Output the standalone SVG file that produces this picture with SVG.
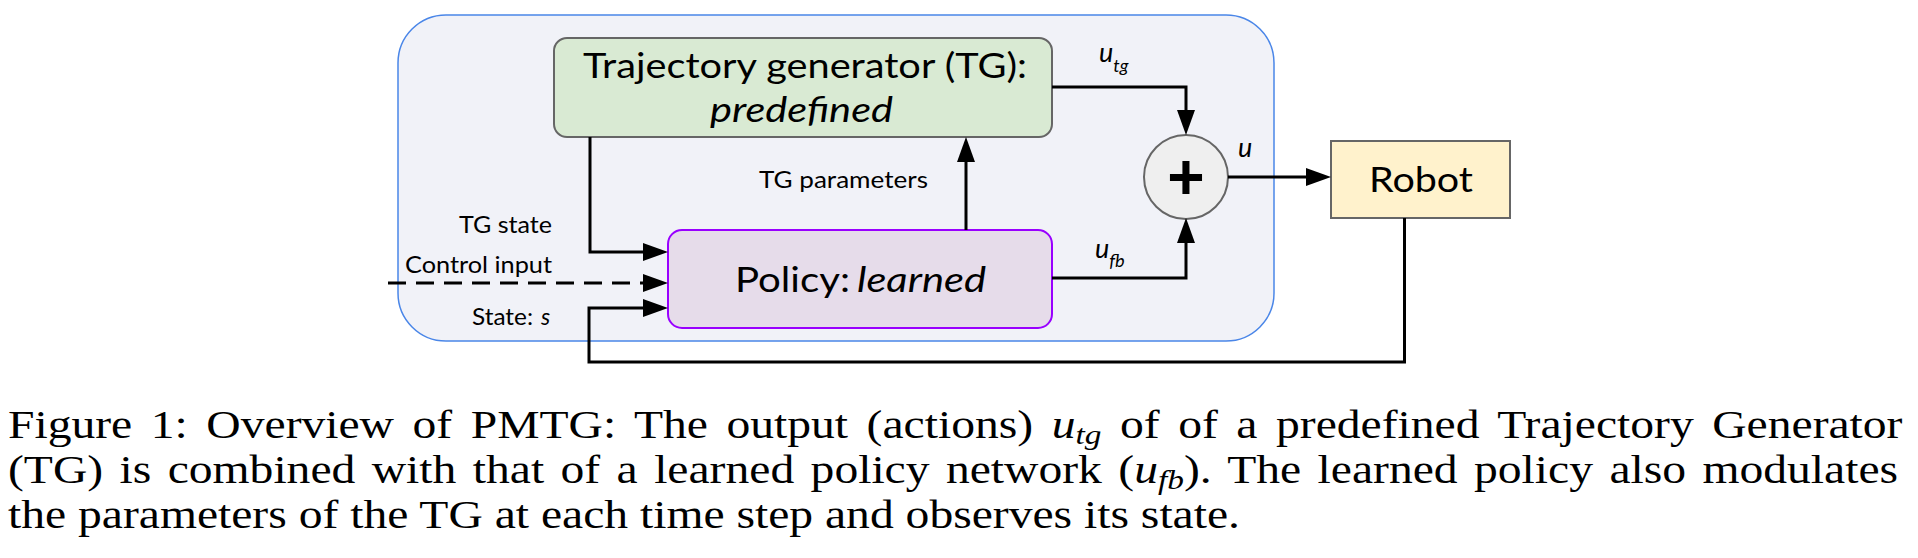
<svg xmlns="http://www.w3.org/2000/svg" width="1918" height="558" viewBox="0 0 1918 558">
<style>
.lbl{font-family:Lato,"Noto Sans","DejaVu Sans",sans-serif;fill:#000}
.big{font-size:35px}
.sm{font-size:23px}
.it{font-style:italic}
.ln{fill:none;stroke:#000;stroke-width:3}
.cap{font-family:"Liberation Serif","Times New Roman",serif;font-size:40px;fill:#000}
</style>
<defs>
<marker id="ah" markerUnits="userSpaceOnUse" markerWidth="26" markerHeight="20" viewBox="0 0 26 20" refX="0" refY="10" orient="auto">
<path d="M0,1 L25,10 L0,19 z" fill="#000"/>
</marker>
</defs>
<rect width="1918" height="558" fill="#fff"/>
<g id="container">
<rect x="398" y="15" width="876" height="326" rx="48" ry="48" fill="#f1f2f8" stroke="#4a86e8" stroke-width="1.5"/>
</g>
<g id="tg">
<rect x="554" y="38" width="498" height="99" rx="13" ry="13" fill="#d9ead3" stroke="#666" stroke-width="2"/>
<text class="lbl big" x="583" y="78" textLength="444" lengthAdjust="spacingAndGlyphs">Trajectory generator (TG):</text>
<text class="lbl big it" x="710" y="122" textLength="183" lengthAdjust="spacingAndGlyphs">predefined</text>
</g>
<g id="policy">
<rect x="668" y="230" width="384" height="98" rx="14" ry="14" fill="#e6dcea" stroke="#9900ff" stroke-width="2"/>
<text class="lbl big" y="292"><tspan x="735" textLength="115" lengthAdjust="spacingAndGlyphs">Policy:</tspan> <tspan class="it" x="857" textLength="129" lengthAdjust="spacingAndGlyphs">learned</tspan></text>
</g>
<g id="sum">
<circle cx="1186" cy="177" r="42" fill="#efefef" stroke="#666" stroke-width="2"/>
<text x="1186" y="199" text-anchor="middle" font-weight="bold" font-size="64" style="font-family:'Liberation Sans',sans-serif">+</text>
</g>
<g id="robot">
<rect x="1331" y="141" width="179" height="77" fill="#fff2cc" stroke="#666" stroke-width="2"/>
<text class="lbl big" x="1369" y="192" textLength="104" lengthAdjust="spacingAndGlyphs">Robot</text>
</g>
<g id="connectors">
<path class="ln" d="M1052,87 H1186 V110" marker-end="url(#ah)"/>
<path class="ln" d="M1052,278 H1186 V243" marker-end="url(#ah)"/>
<path class="ln" d="M1228,177 H1306" marker-end="url(#ah)"/>
<path class="ln" d="M966,230 V162" marker-end="url(#ah)"/>
<path class="ln" d="M590,137 V252 H643" marker-end="url(#ah)"/>
<path class="ln" d="M388,283 H643" stroke-dasharray="18 10" marker-end="url(#ah)"/>
<path class="ln" d="M1404.5,218 V362 H589 V308 H643" marker-end="url(#ah)"/>
</g>
<g id="labels">
<text class="lbl sm" x="759" y="188" textLength="169" lengthAdjust="spacingAndGlyphs">TG parameters</text>
<text class="lbl sm" x="459" y="233" textLength="93" lengthAdjust="spacingAndGlyphs">TG state</text>
<text class="lbl sm" x="405" y="273" textLength="147" lengthAdjust="spacingAndGlyphs">Control input</text>
<text class="lbl sm" y="325"><tspan x="472" textLength="61" lengthAdjust="spacingAndGlyphs">State:</tspan> <tspan class="it" x="541">s</tspan></text>
<text class="lbl it" font-size="27" x="1099" y="62">u<tspan font-size="18" y="72">tg</tspan></text>
<text class="lbl it" font-size="27" x="1238" y="157">u</text>
<text class="lbl it" font-size="27" x="1095" y="258">u<tspan font-size="18" y="267">fb</tspan></text>
</g>
<g id="caption" transform="scale(1.19 1)">
<text class="cap" x="6.7" y="438" word-spacing="5.6">Figure 1:  Overview of PMTG:  The output (actions) <tspan font-style="italic">u</tspan><tspan font-style="italic" font-size="28" dy="6">tg</tspan><tspan dy="-6"> of of a predefined Trajectory Generator</tspan></text>
<text class="cap" x="6.7" y="483" word-spacing="3.8">(TG) is combined with that of a learned policy network (<tspan font-style="italic">u</tspan><tspan font-style="italic" font-size="28" dy="6">fb</tspan><tspan dy="-6">).  The learned policy also modulates</tspan></text>
<text class="cap" x="6.7" y="528">the parameters of the TG at each time step and observes its state.</text>
</g>
</svg>
